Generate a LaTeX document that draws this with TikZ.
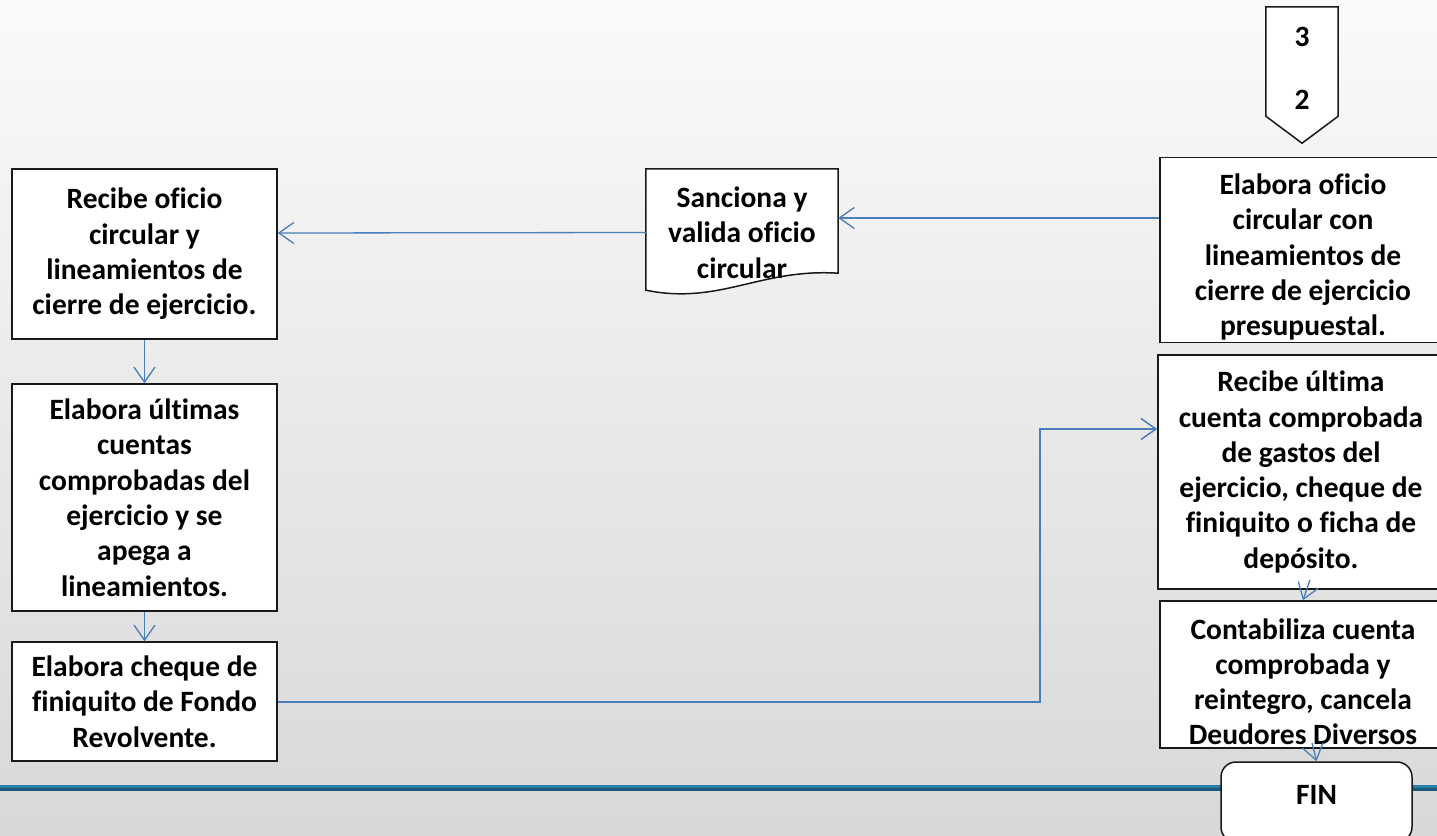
\documentclass[tikz,border=0pt]{standalone}
\usepackage{fontspec}
\setmainfont{Carlito}[Ligatures=CommonOff]
\usetikzlibrary{positioning,arrows.meta,backgrounds}
\definecolor{flujoAzul}{RGB}{74,126,187}
\definecolor{lineaAzul}{RGB}{40,124,168}
\definecolor{lineaOscura}{RGB}{27,88,122}
\definecolor{fondoClaro}{RGB}{250,250,250}
\definecolor{fondoGris}{RGB}{216,216,216}
\tikzset{
    base/.style={font=\bfseries\fontsize{29.5}{35.3}\selectfont, align=center, inner sep=2pt},
    proceso/.style={base, rectangle, draw=black!90, line width=1.5pt, fill=white},
    documento/.style={base, minimum width=192pt, minimum height=127pt},
    conector/.style={base, minimum width=72pt, minimum height=109pt},
    terminal/.style={proceso, rounded corners=15pt},
    borde/.style={draw=black!90, line width=1.5pt, fill=white},
    flow/.style={-{Straight Barb[length=15pt,width=21pt]}, line width=1.3pt, color=flujoAzul}
}
\begin{document}
\begin{tikzpicture}[x=1pt,y=-1pt]
  \useasboundingbox (0,0) rectangle (1437,835);
  \clip (0,0) rectangle (1437,835);

  % franja inferior
  \draw[lineaAzul, line width=3pt] (0,786.5) -- (1437,786.5);
  \draw[lineaOscura, line width=2.5pt] (0,789.5) -- (1437,789.5);

  \node[proceso, minimum width=265pt, minimum height=170pt] (recOficio) at (144.5,254) {Recibe oficio\\circular y\\lineamientos de\\cierre de ejercicio.};
  \node[proceso, minimum width=265pt, minimum height=227pt] (elabUltimas) at (144.5,497.5) {Elabora últimas\\cuentas\\comprobadas del\\ejercicio y se\\apega a\\lineamientos.};
  \node[proceso, minimum width=265pt, minimum height=119pt] (elabCheque) at (144.5,701.5) {Elabora cheque de\\finiquito de Fondo\\Revolvente.};
  \node[documento] (sanciona) at (742,232.5) {Sanciona y\\valida oficio\\circular};
  \node[conector] (conec) at (1302,68.5) {3\\[27.7pt]2};
  \node[proceso, minimum width=286pt, minimum height=184pt, text height=176pt] (elabOficio) at (1303,250) {Elabora oficio\\circular con\\lineamientos de\\cierre de ejercicio\\presupuestal.};
  \node[proceso, minimum width=286pt, minimum height=234pt] (recUltima) at (1301,472) {Recibe última\\cuenta comprobada\\de gastos del\\ejercicio, cheque de\\finiquito o ficha de\\depósito.};
  \node[proceso, minimum width=286pt, minimum height=147pt, text height=141pt] (contab) at (1303,674.5) {Contabiliza cuenta\\comprobada y\\reintegro, cancela\\Deudores Diversos};
  \node[terminal, minimum width=191pt, minimum height=80pt, text depth=14pt] (fin) at (1316.5,802) {FIN};

  \begin{scope}[on background layer]
    \fill[top color=fondoClaro, bottom color=fondoGris] (0,0) rectangle (1437,835);
    \draw[borde] (sanciona.north west) -- (sanciona.north east) -- ([yshift=23pt]sanciona.south east)
      .. controls ([xshift=-78pt,yshift=28pt]sanciona.south east) and ([xshift=74pt,yshift=-9pt]sanciona.south west) .. ([yshift=6pt]sanciona.south west) -- cycle;
    \draw[borde] ([yshift=7pt]conec.north west) -- ([yshift=7pt]conec.north east) -- ([yshift=7pt]conec.south east)
      -- ([yshift=-20pt]conec.south) -- ([yshift=7pt]conec.south west) -- cycle;
  \end{scope}

  \draw[flow] ([yshift=32pt]elabOficio.west) -- ([yshift=14.5pt]sanciona.east);
  \draw[flow] (sanciona.west) -- ([yshift=21pt]recOficio.east);
  \draw[flow] (recOficio) -- (elabUltimas);
  \draw[flow] (elabUltimas) -- (elabCheque);
  \draw[flow, line width=1.5pt] ([yshift=-0.5pt]elabCheque.east) -- ++(762,0) |- ([yshift=43pt]recUltima.west);
  \draw[flow] ([xshift=9pt,yshift=10pt]recUltima.south) -- (contab.north);
  \draw[flow] ([xshift=9pt,yshift=6pt]contab.south) -- (fin.north);
\end{tikzpicture}
\end{document}
